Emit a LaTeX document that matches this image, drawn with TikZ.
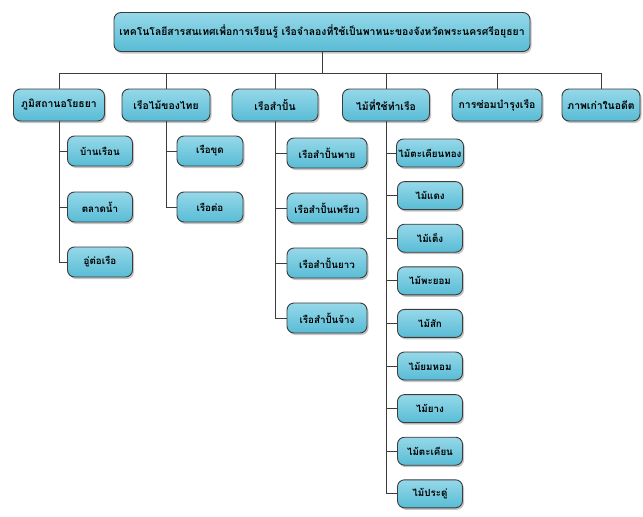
\documentclass[tikz,border=0pt]{standalone}
\usepackage{fontspec}
\newfontfamily\thaifont[Script=Thai]{Loma}
\usetikzlibrary{shadows}
\definecolor{boxtop}{HTML}{96D8E9}
\definecolor{boxbot}{HTML}{58BCD5}
\definecolor{boxline}{HTML}{3C3C3C}
\tikzset{tbox/.style = {draw = boxline, line width = 0.9pt, rounded corners = 7pt,
                        top color = boxtop, bottom color = boxbot,
                        drop shadow = {shadow xshift = 1.5pt, shadow yshift = -2pt, fill = black!45},
                        font = \thaifont\bfseries\fontsize{10.4}{12}\selectfont,
                        inner sep = 2pt, align = center}}
\tikzset{topbox/.style = {tbox, minimum width = 416, minimum height = 39}}
\tikzset{catbox/.style = {tbox, minimum height = 32}}
\tikzset{kidbox/.style = {tbox, minimum height = 30, minimum width = 65,
                          font = \thaifont\bfseries\fontsize{9.8}{11}\selectfont}}
\tikzset{link/.style = {draw = boxline, line width = 0.8pt}}

\begin{document}
\begin{tikzpicture}[x = 1pt, y = -1pt]
    \useasboundingbox (0, 0) rectangle (643, 517);
    \node [topbox] (top) at (322, 32) {เทคโนโลยีสารสนเทศเพื่อการเรียนรู้ เรือจำลองที่ใช้เป็นพาหนะของจังหวัดพระนครศรีอยุธยา};
    \coordinate (bus) at (322, 73);
    % categories
    \node [catbox, minimum width = 91] (c1) at (59, 105) {ภูมิสถานอโยธยา};
    \node [catbox, minimum width = 88] (c2) at (166, 105) {เรือไม้ของไทย};
    \node [catbox, minimum width = 86] (c3) at (275, 105) {เรือสำปั้น};
    \node [catbox, minimum width = 87] (c4) at (386, 105) {ไม้ที่ใช้ทำเรือ};
    \node [catbox, minimum width = 90] (c5) at (497, 105) {การซ่อมบำรุงเรือ};
    \node [catbox, minimum width = 78] (c6) at (601, 105) {ภาพเก่าในอดีต};
    \draw [link] (top.south) -- (bus);
    \foreach \c in {c1, c2, c3, c4, c5, c6}
        \draw [link] (bus) -| (\c.north);
    % children
    \node [kidbox] (a1) at (100, 151) {บ้านเรือน};
    \node [kidbox] (a2) at (100, 207) {ตลาดน้ำ};
    \node [kidbox] (a3) at (100, 262) {อู่ต่อเรือ};
    \node [kidbox, minimum width = 66] (b1) at (210, 151) {เรือขุด};
    \node [kidbox, minimum width = 66] (b2) at (210, 207) {เรือต่อ};
    \node [kidbox, minimum width = 80] (s1) at (327, 153) {เรือสำปั้นพาย};
    \node [kidbox, minimum width = 80] (s2) at (327, 208) {เรือสำปั้นเพรียว};
    \node [kidbox, minimum width = 80] (s3) at (327, 263) {เรือสำปั้นยาว};
    \node [kidbox, minimum width = 80] (s4) at (327, 318) {เรือสำปั้นจ้าง};
    \foreach \k [count = \i from 0] in {ไม้ตะเคียนทอง, ไม้แดง, ไม้เต็ง, ไม้พะยอม, ไม้สัก,
                                          ไม้ยมหอม, ไม้ยาง, ไม้ตะเคียน, ไม้ประดู่}
        \node [kidbox, minimum height = 28] (w\i) at (430, 153 + 42.6 * \i) {\k};
    \foreach \k in {a1, a2, a3}
        \draw [link] (c1.south) |- (\k.west);
    \foreach \k in {b1, b2}
        \draw [link] (c2.south) |- (\k.west);
    \foreach \k in {s1, s2, s3, s4}
        \draw [link] (c3.south) |- (\k.west);
    \foreach \i in {0, ..., 8}
        \draw [link] (c4.south) |- (w\i.west);
\end{tikzpicture}
\end{document}
